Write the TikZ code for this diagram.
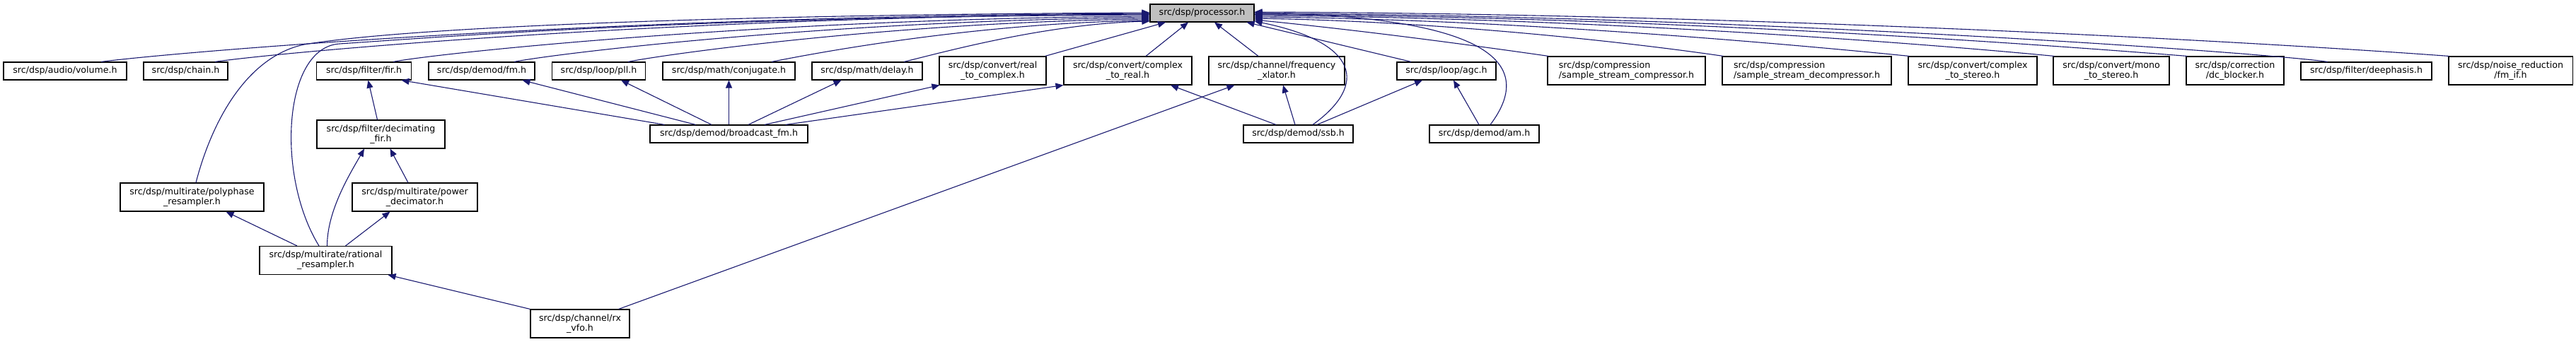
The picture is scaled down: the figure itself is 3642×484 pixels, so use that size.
\documentclass[tikz,border=0pt]{standalone}
\usepackage{fontspec}
\setmainfont{DejaVu Sans}
\usetikzlibrary{arrows.meta}
\definecolor{edgecol}{HTML}{191970}
\definecolor{procfill}{HTML}{BFBFBF}
\begin{document}
\begin{tikzpicture}[x=1pt,y=-1pt,
  box/.style={draw=black, line width=1.1pt, fill=white, inner sep=0pt, minimum height=25pt,
    font=\fontsize{12.6}{14.3}\selectfont, align=center},
  boxtwo/.style={box, minimum height=40pt},
  edge/.style={draw=edgecol, line width=1.1pt, -{Triangle[length=11pt,width=9pt]}},
]
\fill[white] (0,0) rectangle (3642,484);
\useasboundingbox (0,0) rectangle (3642,484);

% nodes
\node[box, fill=procfill, minimum width=147pt] (proc) at (1699.5,18.5) {src/dsp/processor.h};
\node[box, minimum width=174pt] (vol) at (92,100.5) {src/dsp/audio/volume.h};
\node[box, minimum width=119pt] (chain) at (262.5,100.5) {src/dsp/chain.h};
\node[box, minimum width=134pt] (fir) at (514.5,100.5) {src/dsp/filter/fir.h};
\node[box, minimum width=150pt] (fm) at (681,100.5) {src/dsp/demod/fm.h};
\node[box, minimum width=132pt] (pll) at (846.5,100.5) {src/dsp/loop/pll.h};
\node[box, minimum width=187pt] (conj) at (1030.5,100.5) {src/dsp/math/conjugate.h};
\node[box, minimum width=156pt] (delay) at (1226,100.5) {src/dsp/math/delay.h};
\node[boxtwo, minimum width=151pt] (r2c) at (1403.5,100) {src/dsp/convert/real\\\_to\_complex.h};
\node[boxtwo, minimum width=181pt] (c2r) at (1594.5,100) {src/dsp/convert/complex\\\_to\_real.h};
\node[boxtwo, minimum width=192pt] (xlat) at (1805,100) {src/dsp/channel/frequency\\\_xlator.h};
\node[box, minimum width=140pt] (agc) at (2045,100.5) {src/dsp/loop/agc.h};
\node[boxtwo, minimum width=223pt, align=left] (comp) at (2299.5,100) {src/dsp/compression\\/sample\_stream\_compressor.h};
\node[boxtwo, minimum width=239pt, align=left] (decomp) at (2554.5,100) {src/dsp/compression\\/sample\_stream\_decompressor.h};
\node[boxtwo, minimum width=182pt] (c2s) at (2789,100) {src/dsp/convert/complex\\\_to\_stereo.h};
\node[boxtwo, minimum width=164pt] (m2s) at (2985,100) {src/dsp/convert/mono\\\_to\_stereo.h};
\node[boxtwo, minimum width=138pt] (dcb) at (3160,100) {src/dsp/correction\\/dc\_blocker.h};
\node[box, minimum width=185pt] (deem) at (3345.5,100.5) {src/dsp/filter/deephasis.h};
\node[boxtwo, minimum width=175pt] (fmif) at (3549.5,100) {src/dsp/noise\_reduction\\/fm\_if.h};
\node[boxtwo, minimum width=181pt] (decfir) at (538.5,190) {src/dsp/filter/decimating\\\_fir.h};
\node[box, minimum width=223pt] (bfm) at (1030.5,189.5) {src/dsp/demod/broadcast\_fm.h};
\node[box, minimum width=155pt] (ssb) at (1835.5,189.5) {src/dsp/demod/ssb.h};
\node[box, minimum width=155pt] (am) at (2098.5,189.5) {src/dsp/demod/am.h};
\node[boxtwo, minimum width=203pt] (poly) at (271.5,279) {src/dsp/multirate/polyphase\\\_resampler.h};
\node[boxtwo, minimum width=177pt] (powdec) at (586.5,279) {src/dsp/multirate/power\\\_decimator.h};
\node[boxtwo, minimum width=187pt] (rat) at (460.5,368.5) {src/dsp/multirate/rational\\\_resampler.h};
\node[boxtwo, minimum width=140pt] (rxvfo) at (820,458) {src/dsp/channel/rx\\\_vfo.h};

\coordinate (polyJ) at (430,63);
\coordinate (ratJ) at (480,62);

% edges into processor (left side)
\draw[edge] ([xshift=5.5pt]poly.north) .. controls +(23,-89) and +(-80,17) .. (polyJ)
  .. controls +(150,-25) and +(-600,3) .. ([yshift=0.5pt]proc.west);
\draw[edge] ([xshift=-9.5pt]rat.north) .. controls +(-61,-99) and +(-80,5) .. (ratJ)
  .. controls +(150,-10) and +(-650,3) .. ([yshift=-2.5pt]proc.west);
\draw[edge] ([xshift=51pt]vol.north) .. controls +(90,-12) and +(-800,4) .. ([yshift=-0.5pt]proc.west);
\draw[edge] ([xshift=41.5pt]chain.north) .. controls +(80,-12) and +(-700,4) .. ([yshift=-1.5pt]proc.west);
\draw[edge] ([xshift=41.5pt]fir.north) .. controls +(60,-12) and +(-550,4) .. ([yshift=-4.5pt]proc.west);
\draw[edge] ([xshift=46pt]fm.north) .. controls +(60,-12) and +(-450,4) .. ([yshift=-6.5pt]proc.west);
\draw[edge] ([xshift=41.5pt]pll.north) .. controls +(60,-12) and +(-350,4) .. ([yshift=-8.5pt]proc.west);
\draw[edge] ([xshift=60.5pt]conj.north) .. controls +(60,-12) and +(-250,4) .. ([yshift=-10.5pt]proc.west);
\draw[edge] ([xshift=52pt]delay.north) .. controls +(50,-12) and +(-150,4) .. ([yshift=-11.5pt]proc.west);

% edges into processor (bottom)
\draw[edge] ([xshift=-2pt]r2c.north east) -- ([xshift=-51.5pt]proc.south);
\draw[edge] ([xshift=25.5pt]c2r.north) -- ([xshift=-19.5pt]proc.south);
\draw[edge] ([xshift=-26pt]xlat.north) -- ([xshift=17.5pt]proc.south);
\draw[edge] ([xshift=-50pt]agc.north) -- ([xshift=-11pt]proc.south east);

% edges into processor (right side)
\draw[edge] ([xshift=20.5pt]ssb.north) .. controls +(79,-57) and +(147,30) .. ([yshift=-11.5pt]proc.east);
\draw[edge] ([xshift=8.5pt]am.north) .. controls +(58,-77) and +(357,6.5) .. ([yshift=0.5pt]proc.east);
\draw[edge] ([xshift=2pt]comp.north west) .. controls +(-140,-20) and +(140,14) .. ([yshift=-9.5pt]proc.east);
\draw[edge] ([xshift=2pt]decomp.north west) .. controls +(-150,-22) and +(250,4) .. ([yshift=-7.5pt]proc.east);
\draw[edge] ([xshift=2pt]c2s.north west) .. controls +(-200,-20) and +(350,3) .. ([yshift=-5.5pt]proc.east);
\draw[edge] ([xshift=2pt]m2s.north west) .. controls +(-230,-22) and +(450,3) .. ([yshift=-3.5pt]proc.east);
\draw[edge] ([xshift=2pt]dcb.north west) .. controls +(-250,-20) and +(550,3) .. ([yshift=-2pt]proc.east);
\draw[edge] ([xshift=-55pt]deem.north) .. controls +(-80,-12) and +(700,3) .. ([yshift=-0.5pt]proc.east);
\draw[edge] ([xshift=1pt]fmif.north west) .. controls +(-300,-22) and +(700,3) .. ([yshift=1.5pt]proc.east);

% lower edges
\draw[edge] ([xshift=-5pt]decfir.north) -- ([xshift=6pt]fir.south);
\draw[edge] ([xshift=21pt]bfm.north west) -- ([xshift=-14.5pt]fir.south east);
\draw[edge] ([xshift=65pt]bfm.north west) -- ([xshift=57.5pt]fm.south);
\draw[edge] ([xshift=-24.5pt]bfm.north) -- ([xshift=31.5pt]pll.south);
\draw[edge] (bfm.north) -- (conj.south);
\draw[edge] ([xshift=27.5pt]bfm.north) -- ([xshift=-36.5pt]delay.south);
\draw[edge] ([xshift=50.5pt]bfm.north) -- ([xshift=1pt]r2c.south west);
\draw[edge] ([xshift=-32pt]bfm.north east) -- (c2r.south west);
\draw[edge] ([xshift=-31.5pt]ssb.north) -- ([xshift=60.5pt]c2r.south);
\draw[edge] ([xshift=-4.5pt]ssb.north) -- ([xshift=9pt]xlat.south);
\draw[edge] ([xshift=26.5pt]ssb.north) -- ([xshift=-34pt]agc.south);
\draw[edge] ([xshift=-7.5pt]am.north) -- ([xshift=10pt]agc.south);
\draw[edge] ([xshift=-16pt]rxvfo.north east) -- ([xshift=37pt]xlat.south west);
\draw[edge] (rxvfo.north west) -- ([xshift=-6pt]rat.south east);
\draw[edge] ([xshift=-40.5pt]rat.north) -- ([xshift=48pt]poly.south);
\draw[edge] ([xshift=2pt]rat.north) .. controls +(0,-50) and +(-20,35) .. ([xshift=-23.5pt]decfir.south);
\draw[edge] ([xshift=28pt]rat.north) -- ([xshift=-35pt]powdec.south);
\draw[edge] ([xshift=-9.5pt]powdec.north) -- ([xshift=13pt]decfir.south);
\end{tikzpicture}
\end{document}
